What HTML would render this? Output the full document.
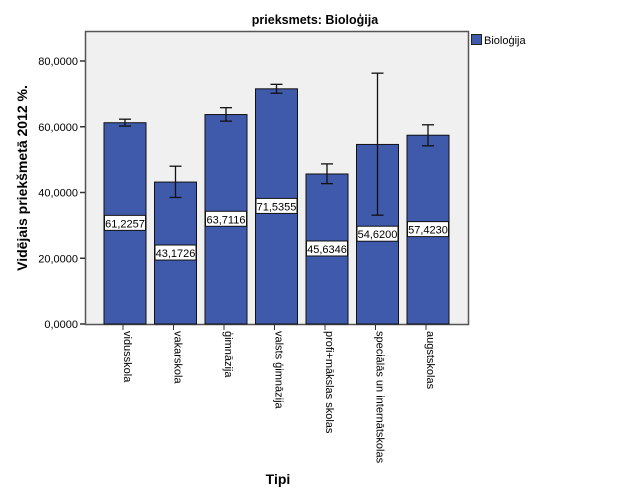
<!DOCTYPE html>
<html><head><meta charset="utf-8">
<style>
html,body{margin:0;padding:0;background:#fff;}
svg{display:block;font-family:"Liberation Sans",Arial,sans-serif;}
</style></head>
<body>
<svg id="chart" width="625" height="500" viewBox="0 0 625 500" xmlns="http://www.w3.org/2000/svg">
<text x="315" y="24" text-anchor="middle" font-size="12.5" font-weight="bold">prieksmets: Bioloģija</text>
<rect x="85.5" y="31.5" width="383" height="293" fill="#f0f0f0" stroke="#555" stroke-width="1.5"/>
<g id="yaxis"></g>
<g id="bars"></g>
<g id="xaxis"></g>
<text transform="translate(27,178) rotate(-90)" text-anchor="middle" font-size="14" font-weight="bold">Vidējais priekšmetā 2012 %.</text>
<text x="278" y="484" text-anchor="middle" font-size="14" font-weight="bold">Tipi</text>
<g>
<rect x="471.5" y="34.5" width="10" height="10" fill="#3f59ab" stroke="#222"/>
<text x="484" y="44" font-size="11">Bioloģija</text>
</g>
</svg>
<script>
const categories = ["vidusskola","vakarskola","ģimnāzija","valsts ģimnāzija","profi+mākslas skolas","speciālās un internātskolas","augstskolas"];
const values = [61.2257,43.1726,63.7116,71.5355,45.6346,54.6200,57.4230];
const valueLabels = ["61,2257","43,1726","63,7116","71,5355","45,6346","54,6200","57,4230"];
const errLow = [60.2,38.5,61.7,70.2,42.7,33.1,54.2];
const errHigh = [62.3,48.0,65.8,72.9,48.7,76.3,60.6];
const yTicks = [0,20,40,60,80];
const yTickLabels = ["0,0000","20,0000","40,0000","60,0000","80,0000"];

const NS = "http://www.w3.org/2000/svg";
const y = v => 324 - v * 3.2875;
const xc = i => 125 + i * 50.5;
const bw = 42;
function mk(tag, attrs, parent){const e=document.createElementNS(NS,tag);for(const k in attrs)e.setAttribute(k,attrs[k]);parent.appendChild(e);return e;}

const ya = document.getElementById('yaxis');
yTicks.forEach((t,i)=>{
  const l = mk('line',{x1:80,x2:85,y1:y(t),y2:y(t),stroke:'#333','stroke-width':1.5},ya);
  
  
  const tx = mk('text',{x:78,y:y(t)+4,'text-anchor':'end','font-size':11},ya);
  tx.textContent = yTickLabels[i];
  
  
});

const bg = document.getElementById('bars');
const xa = document.getElementById('xaxis');
categories.forEach((c,i)=>{
  const cx = xc(i);
  const r = mk('rect',{x:cx-bw/2,y:y(values[i]),width:bw,height:324-y(values[i]),fill:'#3f59ab',stroke:'#111','stroke-width':1},bg);
  
  
  const eg = mk('g',{stroke:'#111','stroke-width':1.3},bg);
  
  
  mk('line',{x1:cx,x2:cx,y1:y(errHigh[i]),y2:y(errLow[i])},eg);
  mk('line',{x1:cx-6,x2:cx+6,y1:y(errHigh[i]),y2:y(errHigh[i])},eg);
  mk('line',{x1:cx-6,x2:cx+6,y1:y(errLow[i]),y2:y(errLow[i])},eg);
  const ly = y(values[i]/2);
  const lb = mk('rect',{x:cx-20.5,y:ly-8,width:41,height:15,fill:'#fff',stroke:'#111','stroke-width':1},bg);
  
  
  const lt = mk('text',{x:cx,y:ly+4,'text-anchor':'middle','font-size':11},bg);
  lt.textContent = valueLabels[i];
  
  
  const tk = mk('line',{x1:cx-2,x2:cx-2,y1:325,y2:330,stroke:'#333','stroke-width':1},xa);
  
  
  const xt = mk('text',{transform:`translate(${cx-1},331) rotate(90)`,'font-size':11},xa);
  xt.textContent = c;
  
  
});
</script>
</body></html>
